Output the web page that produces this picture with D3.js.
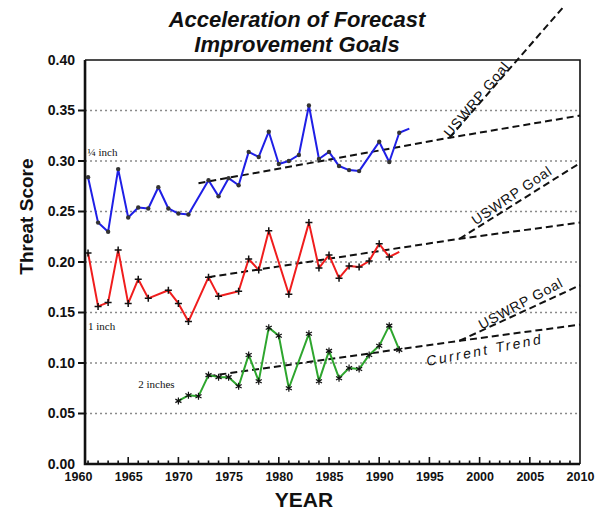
<!DOCTYPE html>
<html>
<head>
<meta charset="utf-8">
<script src="https://cdn.jsdelivr.net/npm/d3@7"></script>
<style>
  html, body { margin: 0; padding: 0; background: #fff; }
  svg { display: block; }
</style>
</head>
<body>
<svg id="chart" width="599" height="513"></svg>
<script>
// ---------- data ----------
const blueYears = [1961,1962,1963,1964,1965,1966,1967,1968,1969,1970,1971,1973,1974,1975,1976,1977,1978,1979,1980,1981,1982,1983,1984,1985,1986,1987,1988,1990,1991,1992,1993];
const blueValues = [0.284,0.239,0.230,0.292,0.244,0.254,0.253,0.274,0.253,0.248,0.247,0.281,0.265,0.283,0.276,0.309,0.304,0.329,0.297,0.300,0.306,0.355,0.302,0.309,0.295,0.291,0.290,0.319,0.299,0.328,0.332];

const redYears = [1961,1962,1963,1964,1965,1966,1967,1969,1970,1971,1973,1974,1976,1977,1978,1979,1981,1983,1984,1985,1986,1987,1988,1989,1990,1991,1992];
const redValues = [0.209,0.156,0.160,0.212,0.159,0.183,0.164,0.172,0.159,0.141,0.185,0.166,0.171,0.203,0.192,0.231,0.168,0.239,0.194,0.207,0.184,0.196,0.195,0.201,0.218,0.205,0.210];

const greenYears = [1970,1971,1972,1973,1974,1975,1976,1977,1978,1979,1980,1981,1983,1984,1985,1986,1987,1988,1989,1990,1991,1992];
const greenValues = [0.0625,0.068,0.067,0.088,0.086,0.086,0.077,0.108,0.082,0.135,0.127,0.075,0.129,0.082,0.112,0.085,0.095,0.094,0.108,0.117,0.137,0.113];

// trend lines: [year, value]
const blueTrend  = [[1972, 0.278], [1997, 0.323], [2010, 0.345]];
const blueGoal   = [[1997, 0.323], [2008.3, 0.452]];
const redTrend   = [[1973, 0.185], [1998, 0.223], [2010, 0.239]];
const redGoal    = [[1998, 0.223], [2010, 0.298]];
const greenTrend = [[1973, 0.087], [1998, 0.122], [2010, 0.138]];
const greenGoal  = [[1998, 0.122], [2010, 0.177]];

const xTickLabels = [1960,1965,1970,1975,1980,1985,1990,1995,2000,2005,2010];
const yTickLabels = [0,0.05,0.10,0.15,0.20,0.25,0.30,0.35,0.40];

const titleLines = ["Acceleration of Forecast", "Improvement Goals"];
const xTitle = "YEAR";
const yTitle = "Threat Score";

// annotations: text, year, value, rotation
const goalLabels = [
  {text: "USWRP Goal", year: 1999.7, value: 0.361, angle: -50, italic: false},
  {text: "USWRP Goal", year: 2003.2, value: 0.266, angle: -34, italic: false},
  {text: "USWRP Goal", year: 2004.1, value: 0.159, angle: -28, italic: false},
  {text: "Current Trend", year: 2000.5, value: 0.113, angle: -11, italic: true}
];
const seriesLabels = [
  {text: "\u00BC inch", year: 1960.95, value: 0.305},
  {text: "1 inch", year: 1961, value: 0.133},
  {text: "2 inches", year: 1966, value: 0.075}
];

// ---------- chart ----------
const svg = d3.select("#chart");
svg.append("rect").attr("width", 599).attr("height", 513).attr("fill", "#fff");

const x = d3.scaleLinear().domain([1960, 2010]).range([78, 580]);
const y = d3.scaleLinear().domain([0, 0.40]).range([464, 60]);

const pLeft = x(1960.7), pRight = x(2010), pTop = y(0.40), pBottom = y(0);
const sans = "'Liberation Sans', Arial, Helvetica, sans-serif";

// gridlines
svg.append("g").selectAll("line")
  .data(yTickLabels.filter(v => v > 0 && v < 0.40))
  .join("line")
  .attr("x1", pLeft).attr("x2", pRight)
  .attr("y1", d => y(d)).attr("y2", d => y(d))
  .attr("stroke", "#8a8a8a").attr("stroke-width", 1.3)
  .attr("stroke-dasharray", "2,3");

// y axis
const yAxis = d3.axisLeft(y).tickValues(yTickLabels).tickSize(0).tickPadding(10)
  .tickFormat(d3.format(".2f"));
const gy = svg.append("g").attr("transform", `translate(${pLeft},0)`).call(yAxis);
gy.select(".domain").remove();
gy.selectAll("text").attr("font-family", sans).attr("font-weight", "bold")
  .attr("font-size", 14).attr("fill", "#111");
svg.append("g").selectAll("line")
  .data(yTickLabels.filter(v => v > 0 && v < 0.40))
  .join("line")
  .attr("x1", pLeft - 7).attr("x2", pLeft)
  .attr("y1", d => y(d)).attr("y2", d => y(d))
  .attr("stroke", "#111").attr("stroke-width", 2);

// x axis labels
const xAxis = d3.axisBottom(x).tickValues(xTickLabels).tickSize(0).tickPadding(8)
  .tickFormat(d3.format("d"));
const gx = svg.append("g").attr("transform", `translate(0,${pBottom})`).call(xAxis);
gx.select(".domain").remove();
gx.selectAll("text").attr("font-family", sans).attr("font-weight", "bold")
  .attr("font-size", 12.5).attr("fill", "#111");

// x ticks (inside)
const yearTicks = d3.range(1961, 2010);
svg.append("g").selectAll("line")
  .data(yearTicks)
  .join("line")
  .attr("x1", d => x(d)).attr("x2", d => x(d))
  .attr("y1", pBottom).attr("y2", d => pBottom - (d % 5 === 0 ? 7 : 3.5))
  .attr("stroke", "#111").attr("stroke-width", 1.6);

// frame
svg.append("path")
  .attr("d", `M${pLeft},${pTop}H${pRight}V${pBottom}`)
  .attr("fill", "none").attr("stroke", "#111").attr("stroke-width", 1.6);
svg.append("path")
  .attr("d", `M${pLeft},${pTop}V${pBottom}H${pRight}`)
  .attr("fill", "none").attr("stroke", "#111").attr("stroke-width", 2.6);

// dashed trend & goal lines
const dashLine = d3.line().x(d => x(d[0])).y(d => y(d[1]));
[blueTrend, blueGoal, redTrend, redGoal, greenTrend, greenGoal].forEach(t => {
  svg.append("path").attr("d", dashLine(t)).attr("fill", "none")
    .attr("stroke", "#111").attr("stroke-width", 2).attr("stroke-dasharray", "7,4");
});

// series
const line = d3.line().x(d => x(d[0])).y(d => y(d[1]));
function series(years, values, color) {
  const pts = years.map((yr, i) => [yr, values[i]]);
  svg.append("path").attr("d", line(pts)).attr("fill", "none")
    .attr("stroke", color).attr("stroke-width", 2).attr("stroke-linejoin", "round");
  return pts;
}
const bluePts = series(blueYears, blueValues, "#1f1fe6");
const redPts = series(redYears, redValues, "#f01d1d");
const greenPts = series(greenYears, greenValues, "#2ea62e");

// markers
svg.append("g").selectAll("circle")
  .data(bluePts.slice(0, -1))
  .join("circle")
  .attr("cx", d => x(d[0])).attr("cy", d => y(d[1])).attr("r", 2.2)
  .attr("fill", "#333");
svg.append("g").selectAll("path")
  .data(redPts.slice(0, -1))
  .join("path")
  .attr("transform", d => `translate(${x(d[0])},${y(d[1])})`)
  .attr("d", "M-3.5,0H3.5M0,-3.5V3.5")
  .attr("stroke", "#111").attr("stroke-width", 1.5);
const ar = 3.5, ac = ar * Math.cos(Math.PI / 6), as = ar * Math.sin(Math.PI / 6);
svg.append("g").selectAll("path")
  .data(greenPts)
  .join("path")
  .attr("transform", d => `translate(${x(d[0])},${y(d[1])})`)
  .attr("d", `M0,${-ar}V${ar}M${-ac},${-as}L${ac},${as}M${-ac},${as}L${ac},${-as}`)
  .attr("stroke", "#111").attr("stroke-width", 1.2);

// annotations
svg.append("g").selectAll("text")
  .data(goalLabels)
  .join("text")
  .attr("transform", d => `translate(${x(d.year)},${y(d.value)}) rotate(${d.angle})`)
  .attr("text-anchor", "middle").attr("dy", "0.35em")
  .attr("font-family", sans).attr("font-size", 14)
  .attr("font-style", d => d.italic ? "italic" : "normal")
  .attr("letter-spacing", d => d.italic ? 2.5 : 0.8)
  .attr("fill", "#111")
  .text(d => d.text);

svg.append("g").selectAll("text")
  .data(seriesLabels)
  .join("text")
  .attr("x", d => x(d.year)).attr("y", d => y(d.value))
  .attr("font-family", "'Liberation Serif', 'Times New Roman', serif")
  .attr("font-size", 11).attr("fill", "#111")
  .text(d => d.text);

// titles
svg.append("g").selectAll("text")
  .data(titleLines)
  .join("text")
  .attr("x", 297).attr("y", (d, i) => 27 + i * 25)
  .attr("text-anchor", "middle")
  .attr("font-family", sans).attr("font-weight", "bold").attr("font-style", "italic")
  .attr("font-size", 22).attr("fill", "#111")
  .text(d => d);

svg.append("text")
  .attr("x", x(1982.5)).attr("y", 507)
  .attr("text-anchor", "middle")
  .attr("font-family", sans).attr("font-weight", "bold").attr("font-size", 21)
  .attr("fill", "#111").text(xTitle);

svg.append("text")
  .attr("transform", `translate(33,${y(0.245)}) rotate(-90)`)
  .attr("text-anchor", "middle")
  .attr("font-family", sans).attr("font-weight", "bold").attr("font-size", 19)
  .attr("fill", "#111").text(yTitle);
</script>
</body>
</html>
